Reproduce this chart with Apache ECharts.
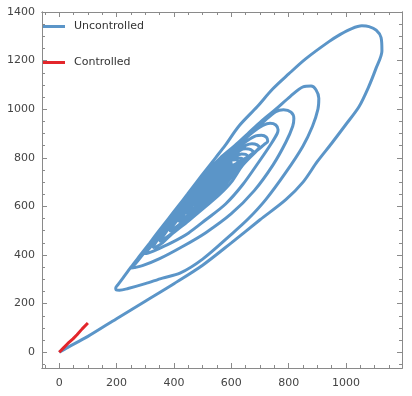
<!DOCTYPE html>
<html>
<head>
<meta charset="utf-8">
<script src="https://cdn.jsdelivr.net/npm/echarts@6/dist/echarts.min.js"></script>
<style>
  html, body { margin: 0; padding: 0; background: #fff; }
  #chart { width: 412px; height: 396px; }
</style>
</head>
<body>
<div id="chart"></div>
<script>
// values, one array per turn of the spiral
const loop1 = [[0,0],[30,20],[100,65],[200,138],[300,210],[400,282],[500,358],[600,450],[700,545],[790,628],[850,700],[900,785],[950,860],[998,935],[1045,1010],[1078,1090],[1105,1170],[1125,1240],[1122,1295],[1105,1325],[1080,1340],[1055,1343],[1020,1332],[980,1308],[939,1277],[859,1207],[800,1145],[744,1083],[690,1010],[626,930],[578,850],[545,800],[512,750],[479,700],[447,650],[414,600],[381,550],[348,500],[316,450],[283,400],[250,350],[222,305],[205,278],[197,264]];
const loop2 = [[198,257],[210,255],[240,262],[300,282],[360,305],[421,325],[500,383],[600,485],[660,550],[720,628],[790,740],[849,847],[883,930],[902,1000],[905,1045],[895,1080],[878,1095],[850,1092],[805,1052],[755,1000],[704,950],[658,900],[612,850],[562,800],[522,750],[487,700],[453,650],[421,600],[388,550],[355,500],[323,450],[290,400],[264,362],[252,350]];
const loop3 = [[250,346],[262,348],[290,356],[350,385],[430,435],[511,492],[600,570],[680,665],[745,770],[790,864],[814,930],[818,962],[808,988],[782,998],[755,990],[716,952],[668,900],[620,850],[572,800],[530,750],[495,700],[460,650],[428,600],[395,550],[362,500],[330,450],[306,416],[296,409]];
const loop4 = [[298,406],[310,408],[330,417],[390,450],[450,490],[511,545],[580,610],[640,690],[700,790],[740,860],[760,900],[763,915],[755,935],[735,942],[710,933],[680,910],[642,872],[604,828],[574,795],[536,750],[501,700],[467,650],[435,600],[402,550],[370,500],[342,460],[331,442],[327,435]];
const loop5 = [[330,431],[340,435],[360,450],[387,480],[450,540],[511,600],[560,650],[600,700],[640,770],[690,830],[715,855],[727,868],[722,885],[705,893],[685,890],[655,870],[620,840],[590,805],[546,750],[508,700],[474,650],[442,600],[409,550],[376,500],[355,466],[349,458]];
const loop6 = [[352,458],[365,465],[410,505],[460,552],[505,600],[550,650],[590,705],[625,760],[665,810],[690,832],[697,842],[690,853],[672,858],[652,852],[625,832],[594,800],[552,750],[514,700],[481,650],[449,600],[416,550],[390,510],[384,500]];
const loop7 = [[388,500],[400,508],[440,545],[495,600],[540,650],[578,700],[610,750],[645,795],[670,812],[676,822],[668,834],[650,837],[630,830],[604,800],[563,750],[521,700],[488,650],[456,600],[423,550],[417,540]];
const loop8 = [[420,539],[432,548],[485,600],[530,650],[568,700],[600,745],[630,785],[652,798],[657,806],[650,814],[636,816],[618,808],[600,790],[570,750],[528,700],[495,650],[463,600],[450,580],[445,572]];
const loop9 = [[449,571],[460,580],[478,600],[520,650],[558,700],[590,742],[620,775],[638,785],[641,792],[634,798],[618,798],[600,788],[576,752],[535,700],[502,650],[478,612],[473,605]];
const loop10 = [[477,604],[488,615],[512,650],[548,700],[580,742],[608,770],[620,778],[623,785],[616,792],[600,790],[585,770],[563,740],[536,700],[505,650],[497,638]];
const loop11 = [[503,640],[515,652],[530,672],[545,695],[565,725],[585,752],[598,768],[600,777],[593,780],[580,770],[562,745],[548,722],[538,702],[525,682],[516,666]];
const loop12 = [[520,670],[532,682],[550,708],[570,738],[585,760],[588,768],[582,770],[570,758],[555,735],[542,712],[530,692],[524,682]];
const tail = [[530,688],[545,708],[562,732],[575,750],[578,758],[572,758],[560,742],[548,722],[538,705],[535,698],[545,712],[558,732],[566,745],[562,747],[552,732],[545,720]];

const controlled = [[0,0],[15,18],[30,36],[48,55],[62,72],[80,96],[100,120]];

const xLabels = [0, 200, 400, 600, 800, 1000];
const yLabels = [0, 200, 400, 600, 800, 1000, 1200, 1400];
const xMinor = [-50,0,50,100,150,200,250,300,350,400,450,500,550,600,650,700,750,800,850,900,950,1000,1050,1100,1150];
const yMinor = [-50,0,50,100,150,200,250,300,350,400,450,500,550,600,650,700,750,800,850,900,950,1000,1050,1100,1150,1200,1250,1300,1350,1400];

const uncontrolled = [].concat(loop1, loop2, loop3, loop4, loop5, loop6, loop7, loop8,
  loop9, loop10, loop11, loop12, tail);

const FONT = "DejaVu Sans";
const AXIS = "#8a8a8a";
const X_MIN = -60, X_MAX = 1195, Y_MIN = -65, Y_MAX = 1400;
const RECT = { left: 42, right: 10, top: 12, bottom: 28 };

function xAxisDef(grid, pos, ticks, len, labels) {
  return {
    gridIndex: grid, type: "value", position: pos, min: X_MIN, max: X_MAX,
    axisLine: { show: true, onZero: false, lineStyle: { color: AXIS, width: 1 } },
    axisTick: { show: true, inside: true, length: len, customValues: ticks, lineStyle: { color: AXIS } },
    axisLabel: labels
      ? { show: true, customValues: xLabels, margin: 10, color: "#444", fontFamily: FONT, fontSize: 11, formatter: (v) => String(v) }
      : { show: false },
    splitLine: { show: false },
  };
}
function yAxisDef(grid, pos, ticks, len, labels) {
  return {
    gridIndex: grid, type: "value", position: pos, min: Y_MIN, max: Y_MAX,
    axisLine: { show: true, onZero: false, lineStyle: { color: AXIS, width: 1 } },
    axisTick: { show: true, inside: true, length: len, customValues: ticks, lineStyle: { color: AXIS } },
    axisLabel: labels
      ? { show: true, customValues: yLabels, margin: 7, color: "#444", fontFamily: FONT, fontSize: 11, formatter: (v) => String(v) }
      : { show: false },
    splitLine: { show: false },
  };
}
// empty series so every frame grid has something bound to its axes
const frameSeries = (i) => ({ type: "line", xAxisIndex: i, yAxisIndex: i, data: [], silent: true });

const chart = echarts.init(document.getElementById("chart"), null, { renderer: "canvas" });
chart.setOption({
  animation: false,
  backgroundColor: "#fff",
  grid: [RECT, RECT, RECT, RECT],
  legend: {
    orient: "vertical", left: 43, top: 21, padding: 0, itemGap: 25,
    itemWidth: 22, itemHeight: 3, icon: "rect",
    textStyle: { fontFamily: FONT, fontSize: 11, color: "#333", padding: [0, 0, 0, 4] },
    data: ["Uncontrolled", "Controlled"],
  },
  xAxis: [
    xAxisDef(0, "bottom", xLabels, 5, true),
    xAxisDef(1, "bottom", xMinor, 3, false),
    xAxisDef(2, "top", xLabels, 5, false),
    xAxisDef(3, "top", xMinor, 3, false),
  ],
  yAxis: [
    yAxisDef(0, "left", yLabels, 5, true),
    yAxisDef(1, "left", yMinor, 3, false),
    yAxisDef(2, "right", yLabels, 5, false),
    yAxisDef(3, "right", yMinor, 3, false),
  ],
  series: [
    {
      name: "Uncontrolled", type: "line", data: uncontrolled,
      smooth: 0.3, showSymbol: false,
      lineStyle: { color: "#5b95c8", width: 3 }, itemStyle: { color: "#5b95c8" },
    },
    {
      name: "Controlled", type: "line", data: controlled,
      smooth: false, showSymbol: false,
      lineStyle: { color: "#e3262b", width: 3 }, itemStyle: { color: "#e3262b" },
    },
    frameSeries(1), frameSeries(2), frameSeries(3),
  ],
});
</script>
</body>
</html>
